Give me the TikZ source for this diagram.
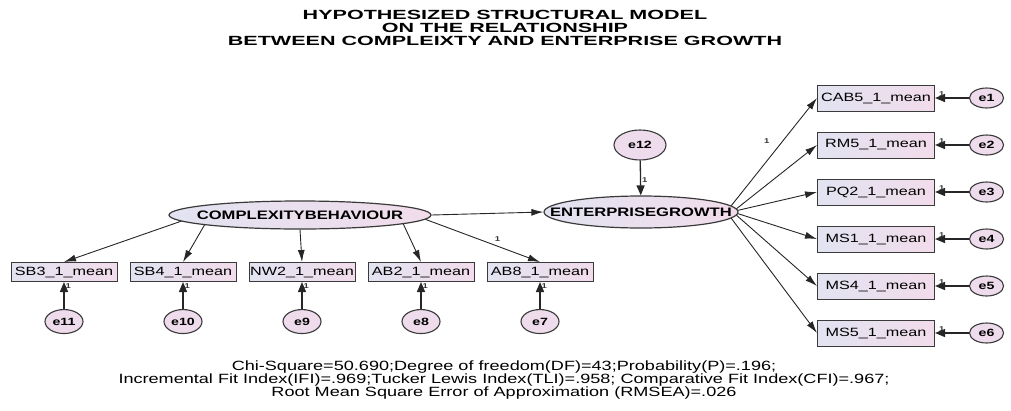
\documentclass[tikz,border=0pt]{standalone}
\usepackage{fontspec}
\setmainfont{Liberation Sans}[FakeStretch=1.35]
\newfontfamily\headfont{Liberation Sans}[FakeStretch=1.62]
\usetikzlibrary{positioning, arrows.meta, shapes.geometric}

\definecolor{boxblue}{HTML}{E2E3F1}
\definecolor{boxpink}{HTML}{F2DCEB}
\definecolor{errpink}{HTML}{EEDCEC}
\definecolor{edgegray}{HTML}{3A3A3A}

\tikzset{
  obs/.style={draw=edgegray, line width=1pt, rectangle, left color=boxblue, right color=boxpink,
    minimum width=106pt, minimum height=19pt, inner sep=0pt, font=\fontsize{12}{12}\selectfont},
  obsr/.style={obs, minimum width=117pt, minimum height=26pt},
  latent/.style={draw=edgegray, line width=1.2pt, ellipse, left color=boxblue, right color=boxpink,
    inner sep=0pt, font=\fontsize{12.3}{12.3}\selectfont\bfseries},
  err/.style={draw=edgegray, line width=1.1pt, ellipse, fill=errpink, minimum width=38pt,
    minimum height=24pt, inner sep=0pt, font=\fontsize{10.5}{10.5}\selectfont\bfseries},
  arr/.style={-{Latex[length=12pt,width=7pt]}, line width=0.9pt, draw=black!85},
  earr/.style={-{Triangle[length=10pt,width=8pt]}, line width=1.3pt, draw=black!85},
  one/.style={font=\fontsize{7}{7}\selectfont\bfseries, inner sep=1pt, text=black!80}
}

\begin{document}
\begin{tikzpicture}[x=1pt, y=-1pt]
\useasboundingbox (0,0) rectangle (1011,410);

\node[align=center, font=\headfont\fontsize{13.3}{13}\selectfont\bfseries] (title) at (505,28)
  {HYPOTHESIZED STRUCTURAL MODEL\\ON THE RELATIONSHIP\\BETWEEN COMPLEIXTY AND ENTERPRISE GROWTH};

% latent variables
\node[latent, minimum width=262pt, minimum height=28pt] (CB) at (300,215) {\makebox[0pt]{COMPLEXITYBEHAVIOUR}};
\node[latent, minimum width=194pt, minimum height=32pt] (EG) at (641,212) {\makebox[0pt]{ENTERPRISEGROWTH}};
\node[err, minimum width=52pt, minimum height=30pt] (e12) at (640,145) {e12};

% indicators of complexity behaviour
\node[obs] (SB3) at (64,272) {SB3\_1\_mean};
\node[obs, right=12pt of SB3] (SB4) {SB4\_1\_mean};
\node[obs, right=12pt of SB4] (NW2) {NW2\_1\_mean};
\node[obs, right=12pt of NW2] (AB2) {AB2\_1\_mean};
\node[obs, right=12pt of AB2] (AB8) {AB8\_1\_mean};

\node[err, below=27pt of SB3] (e11) {e11};
\node[err, below=27pt of SB4] (e10) {e10};
\node[err, below=27pt of NW2] (e9) {e9};
\node[err, below=27pt of AB2] (e8) {e8};
\node[err, below=27pt of AB8] (e7) {e7};

% indicators of enterprise growth
\node[obsr] (CAB5) at (876,98) {CAB5\_1\_mean};
\node[obsr, below=20pt of CAB5] (RM5) {RM5\_1\_mean};
\node[obsr, below=20pt of RM5] (PQ2) {PQ2\_1\_mean};
\node[obsr, below=20pt of PQ2] (MS1) {MS1\_1\_mean};
\node[obsr, below=20pt of MS1] (MS4) {MS4\_1\_mean};
\node[obsr, below=20pt of MS4] (MS5) {MS5\_1\_mean};

\node[err, minimum width=34pt, minimum height=20pt, right=34pt of CAB5] (e1) {e1};
\node[err, minimum width=34pt, minimum height=20pt, right=34pt of RM5] (e2) {e2};
\node[err, minimum width=34pt, minimum height=20pt, right=34pt of PQ2] (e3) {e3};
\node[err, minimum width=34pt, minimum height=20pt, right=34pt of MS1] (e4) {e4};
\node[err, minimum width=34pt, minimum height=20pt, right=34pt of MS4] (e5) {e5};
\node[err, minimum width=34pt, minimum height=20pt, right=34pt of MS5] (e6) {e6};

\node[align=center, font=\fontsize{13.4}{13}\selectfont] (fit) at (504,380)
  {Chi-Square=50.690;Degree of freedom(DF)=43;Probability(P)=.196;\\
   Incremental Fit Index(IFI)=.969;Tucker Lewis Index(TLI)=.958; Comparative Fit Index(CFI)=.967;\\
   Root Mean Square Error of Approximation (RMSEA)=.026};

\draw
    (CB.east) edge[arr] (EG.west)
    (e12) edge[earr] node[one, right, pos=0.55]{1} (EG)
    (CB.183) edge[arr] (SB3.north)
    (CB.186) edge[arr] (SB4.north)
    (CB.south) edge[arr] (NW2.north)
    (CB.355) edge[arr] (AB2.north)
    (CB.358.5) edge[arr] node[one, pos=0.58, above right=2pt]{1} (AB8.north)
    (EG.4) edge[arr] node[one, pos=0.6, left=12pt]{1} (CAB5.west)
    (EG.2.5) edge[arr] (RM5.west)
    (EG.1) edge[arr] (PQ2.west)
    (EG.-1) edge[arr] (MS1.west)
    (EG.-2.5) edge[arr] (MS4.west)
    (EG.-4) edge[arr] (MS5.west)
    ;

\foreach \e/\b in {e11/SB3, e10/SB4, e9/NW2, e8/AB2, e7/AB8}
  \draw (\e) edge[earr] node[one, right, pos=0.85]{1} (\b);
\foreach \e/\b in {e1/CAB5, e2/RM5, e3/PQ2, e4/MS1, e5/MS4, e6/MS5}
  \draw (\e) edge[earr] node[one, above, pos=0.8]{1} (\b);
\end{tikzpicture}
\end{document}
